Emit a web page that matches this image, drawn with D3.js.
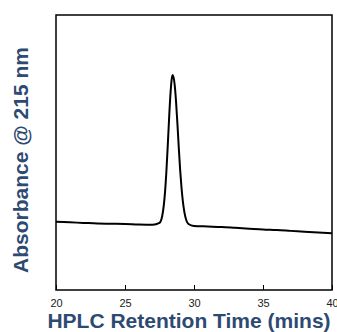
<!DOCTYPE html>
<html>
<head>
<meta charset="utf-8">
<script src="https://cdn.jsdelivr.net/npm/d3@7"></script>
<style>
  html, body { margin: 0; padding: 0; background: #fff; }
</style>
</head>
<body>
<div id="chart"></div>
<script>
// retention time (mins) and absorbance (arbitrary units, 0-100 full scale)
var times = [20, 21, 22, 23, 24, 25, 26, 27, 27.5, 27.7, 27.9, 28.0, 28.1, 28.2, 28.3, 28.4, 28.46,
  28.6, 28.7, 28.8, 28.9, 29.0, 29.1, 29.3, 29.6, 30, 31, 32, 33, 34, 35, 36, 37, 38, 39, 40];
var absorbance = [24.8, 24.6, 24.4, 24.2, 24.1, 24.0, 23.8, 23.7, 24.4, 27.0, 35.6, 43.2, 52.7, 62.9, 71.7, 77.2, 78.2,
  74.6, 68.4, 60.3, 51.5, 43.4, 36.9, 28.4, 24.0, 23.3, 23.1, 22.9, 22.6, 22.3, 22.0, 21.8, 21.5, 21.2, 20.9, 20.6];
var xTicks = [20, 25, 30, 35, 40];

var width = 337, height = 332;
var plotLeft = 56, plotRight = 332, plotTop = 15, plotBottom = 290;
var titleColor = "#2d4a72";

var svg = d3.select("#chart")
  .append("svg")
  .attr("width", width)
  .attr("height", height);

var x = d3.scaleLinear().domain([20, 40]).range([plotLeft, plotRight]);
var y = d3.scaleLinear().domain([0, 100]).range([plotBottom, plotTop]);

// bottom axis, ticks pointing into the plot
var axis = d3.axisBottom(x)
  .tickValues(xTicks)
  .tickSizeInner(-5)
  .tickSizeOuter(0)
  .tickPadding(9);

var gAxis = svg.append("g")
  .attr("transform", "translate(0," + plotBottom + ")")
  .call(axis);

gAxis.select("path").remove();
gAxis.selectAll(".tick line")
  .style("stroke", "#000")
  .style("stroke-width", "1px");
gAxis.selectAll(".tick text")
  .style("fill", "#222")
  .style("font-family", "'Liberation Sans', Arial, sans-serif")
  .style("font-size", "11px");

// trace
var line = d3.line()
  .x(function(d, i) { return x(times[i]); })
  .y(function(d) { return y(d); })
  .curve(d3.curveMonotoneX);

svg.append("path")
  .datum(absorbance)
  .attr("d", line)
  .style("fill", "none")
  .style("stroke", "#000")
  .style("stroke-width", "2px")
  .style("stroke-linejoin", "round");

// frame
svg.append("rect")
  .attr("x", plotLeft)
  .attr("y", plotTop)
  .attr("width", plotRight - plotLeft)
  .attr("height", plotBottom - plotTop)
  .style("fill", "none")
  .style("stroke", "#000")
  .style("stroke-width", "1.5px");

// axis titles
svg.append("text")
  .attr("x", (46 + 332) / 2)
  .attr("y", 328)
  .attr("text-anchor", "middle")
  .text("HPLC Retention Time (mins)")
  .style("fill", titleColor)
  .style("font-family", "'Liberation Sans', Arial, sans-serif")
  .style("font-weight", "bold")
  .style("font-size", "21px");

svg.append("text")
  .attr("transform", "translate(28,160) rotate(-90)")
  .attr("text-anchor", "middle")
  .text("Absorbance @ 215 nm")
  .style("fill", titleColor)
  .style("font-family", "'Liberation Sans', Arial, sans-serif")
  .style("font-weight", "bold")
  .style("font-size", "21px");
</script>
</body>
</html>
